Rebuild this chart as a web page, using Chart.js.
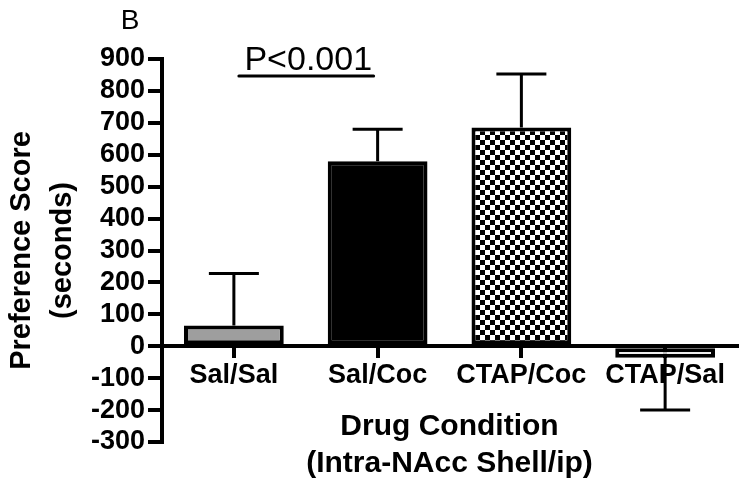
<!DOCTYPE html>
<html>
<head>
<meta charset="utf-8">
<script src="https://cdn.jsdelivr.net/npm/chart.js@4.4.1/dist/chart.umd.min.js"></script>
<style>
  html, body { margin: 0; padding: 0; background: #fff; }
  canvas { display: block; }
</style>
</head>
<body>
<canvas id="chart" width="750" height="488"></canvas>
<script>
// data
const conditions = ["Sal/Sal", "Sal/Coc", "CTAP/Coc", "CTAP/Sal"];
const meanScores = [65, 580, 685, -36];
const semScores = [163, 100, 168, 164];
const yTickValues = [-300, -200, -100, 0, 100, 200, 300, 400, 500, 600, 700, 800, 900];
const panelLabel = "B";
const statLabel = "P<0.001";
const statPair = [0, 1];

Chart.defaults.font.family = "'Liberation Sans', Arial, Helvetica, sans-serif";
Chart.defaults.color = "#000";

const canvas = document.getElementById("chart");

// checkerboard fill for CTAP/Coc
function checkerPattern() {
    const c = document.createElement("canvas");
    c.width = 10;
    c.height = 10;
    const g = c.getContext("2d");
    g.fillStyle = "#fff";
    g.fillRect(0, 0, 10, 10);
    g.fillStyle = "#000";
    g.fillRect(0, 0, 5, 5);
    g.fillRect(5, 5, 5, 5);
    return canvas.getContext("2d").createPattern(c, "repeat");
}

const barFills = ["#9e9e9e", "#000000", checkerPattern(), "#ffffff"];

// SEM bars, one direction only
const errorBars = {
    id: "errorBars",
    afterDatasetsDraw(chart) {
        const ctx = chart.ctx;
        const y = chart.scales.y;
        const meta = chart.getDatasetMeta(0);
        ctx.save();
        ctx.strokeStyle = "#000";
        ctx.lineWidth = 3;
        meta.data.forEach((bar, i) => {
            const v = meanScores[i];
            const end = v >= 0 ? v + semScores[i] : v - semScores[i];
            const y0 = y.getPixelForValue(v);
            const y1 = y.getPixelForValue(end);
            ctx.beginPath();
            ctx.moveTo(bar.x, y0);
            ctx.lineTo(bar.x, y1);
            ctx.moveTo(bar.x - 25, y1);
            ctx.lineTo(bar.x + 25, y1);
            ctx.stroke();
        });
        ctx.restore();
    }
};

// panel letter + significance line
const annotations = {
    id: "annotations",
    afterDraw(chart) {
        const ctx = chart.ctx;
        const area = chart.chartArea;
        const x = chart.scales.x;
        ctx.save();
        ctx.fillStyle = "#000";
        ctx.textAlign = "center";
        ctx.textBaseline = "alphabetic";
        ctx.font = "28px 'Liberation Sans', Arial, sans-serif";
        ctx.fillText(panelLabel, area.left - 32, 29);

        const x0 = x.getPixelForValue(statPair[0]) + 5;
        const x1 = x.getPixelForValue(statPair[1]) - 4;
        ctx.font = "34px 'Liberation Sans', Arial, sans-serif";
        ctx.fillText(statLabel, (x0 + x1) / 2 + 2, area.top + 11);
        ctx.strokeStyle = "#000";
        ctx.lineWidth = 3;
        ctx.lineCap = "round";
        ctx.beginPath();
        ctx.moveTo(x0, area.top + 17);
        ctx.lineTo(x1, area.top + 17);
        ctx.stroke();
        ctx.restore();
    }
};

const chart = new Chart(canvas, {
    type: "bar",
    data: {
        labels: conditions,
        datasets: [{
            data: meanScores,
            backgroundColor: barFills,
            borderColor: "#000",
            borderWidth: 4,
            borderSkipped: false,
            categoryPercentage: 1,
            barPercentage: 0.694
        }]
    },
    plugins: [errorBars, annotations],
    options: {
        responsive: false,
        animation: false,
        layout: {
            padding: { top: 59, right: 13, bottom: 46, left: 0 }
        },
        plugins: {
            legend: { display: false },
            tooltip: { enabled: false }
        },
        scales: {
            x: {
                position: { y: 0 },
                offset: true,
                grid: {
                    offset: false,
                    drawOnChartArea: false,
                    drawTicks: true,
                    tickLength: 10,
                    lineWidth: 4,
                    color: "#000"
                },
                border: { display: true, width: 4, color: "#000" },
                ticks: {
                    padding: 3,
                    font: { size: 27, weight: "bold" },
                    color: "#000",
                    maxRotation: 0,
                    autoSkip: false
                },
                title: {
                    display: true,
                    text: ["Drug Condition", "(Intra-NAcc Shell/ip)"],
                    font: { size: 30, weight: "bold", lineHeight: 1.25 },
                    color: "#000",
                    padding: { top: 13, bottom: 0 }
                }
            },
            y: {
                min: -300,
                max: 900,
                afterBuildTicks: scale => {
                    scale.ticks = yTickValues.map(v => ({ value: v }));
                },
                afterFit: scale => {
                    scale.width = 162;
                },
                grid: {
                    drawOnChartArea: false,
                    drawTicks: true,
                    tickLength: 14,
                    lineWidth: 4,
                    color: "#000"
                },
                border: { display: true, width: 4, color: "#000" },
                ticks: {
                    padding: 3,
                    autoSkip: false,
                    font: { size: 27, weight: "bold" },
                    color: "#000"
                },
                title: {
                    display: true,
                    text: ["Preference Score", "(seconds)"],
                    font: { size: 29, weight: "bold", lineHeight: 1.4 },
                    color: "#000",
                    padding: { top: 2, bottom: 0 }
                }
            }
        }
    }
});
</script>
</body>
</html>
